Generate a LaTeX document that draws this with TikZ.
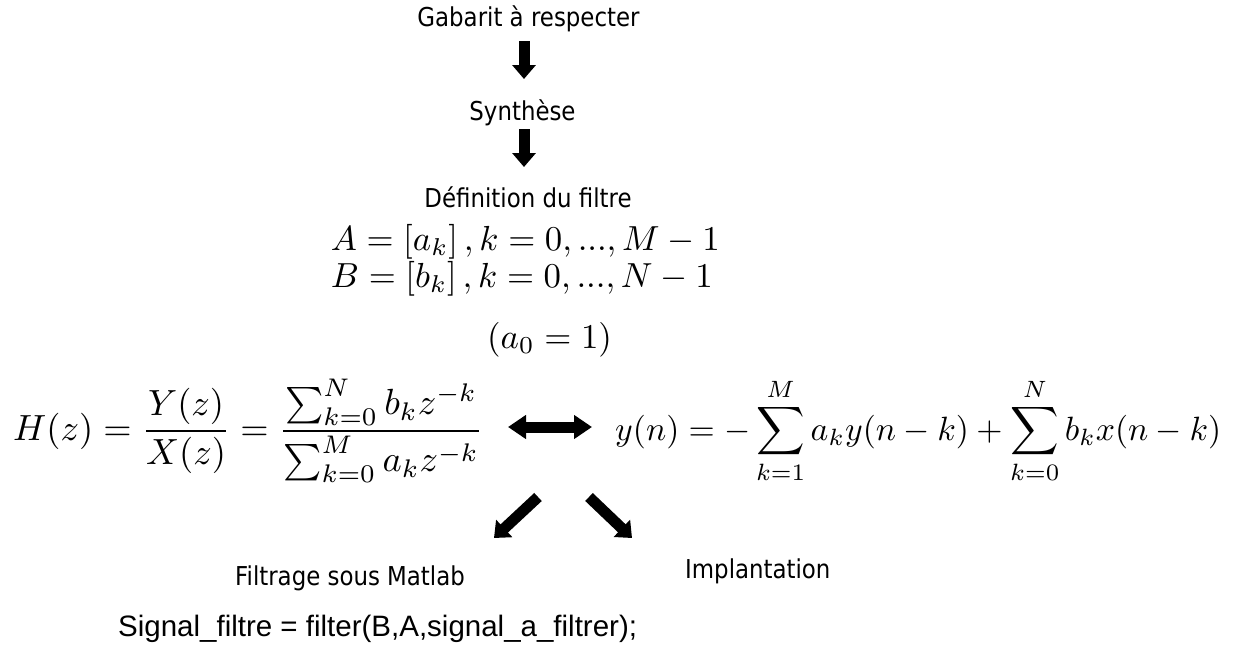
\documentclass[tikz,border=0pt]{standalone}
\usepackage{fontspec}
\usepackage{amsmath}
\usetikzlibrary{arrows.meta}
\newfontfamily\tah[FakeStretch=0.88]{DejaVu Sans}
\newfontfamily\ari{Liberation Sans}
\begin{document}
\begin{tikzpicture}[x=1pt,y=-1pt,
  lbl/.style={inner sep=0pt, font=\tah\fontsize{26}{30}\selectfont},
  code/.style={inner sep=0pt, font=\ari\fontsize{29.5}{34}\selectfont},
  eq/.style={inner sep=0pt},
  bigarrow/.style={line width=11pt,-{Triangle[length=14pt,width=23pt]}},
  dblarrow/.style={line width=11pt,{Triangle[length=18pt,width=23pt]}-{Triangle[length=18pt,width=23pt]}}]
\useasboundingbox (0,0) rectangle (1236,645);
\node[lbl,anchor=base] (gab) at (528.5,27) {Gabarit à respecter};
\node[lbl,anchor=base] (syn) at (522.5,120) {Synthèse};
\node[lbl,anchor=base] (def) at (528,207) {Définition du filtre};
\node[eq,anchor=base east] (Aeq) at (720,250) {\scalebox{3.48}{$A=\left[a_k\right],k=0,...,M-1$}};
\node[eq,anchor=base east] (Beq) at (713,287) {\scalebox{3.48}{$B=\left[b_k\right],k=0,...,N-1$}};
\node[eq,anchor=base west] (a0) at (487,348) {\scalebox{3.48}{$(a_0=1)$}};
\node[eq,anchor=base west] (Heq) at (13,440) {\resizebox{470pt}{!}{$\displaystyle H(z)=\frac{Y(z)}{X(z)}=\frac{\sum_{k=0}^{N}b_kz^{-k}}{\sum_{k=0}^{M}a_kz^{-k}}$}};
\node[eq,anchor=base west] (yeq) at (615,440) {\resizebox{606pt}{!}{$\displaystyle y(n)=-\sum_{k=1}^{M}a_ky(n-k)+\sum_{k=0}^{N}b_kx(n-k)$}};
\node[lbl,anchor=base] (filt) at (350,585) {Filtrage sous Matlab};
\node[lbl,anchor=base west] (impl) at (685,578) {Implantation};
\node[code,anchor=base west] (sig) at (118,636) {Signal\_filtre = filter(B,A,signal\_a\_filtrer);};
\coordinate (a1s) at (524,41);
\coordinate (a1e) at (524,79);
\coordinate (a2s) at (524,129);
\coordinate (a2e) at (524,167);
\coordinate (dl) at (508,427);
\coordinate (dr) at (592,427);
\coordinate (ls) at (538,497);
\coordinate (le) at (494,538);
\coordinate (rs) at (589,497);
\coordinate (re) at (632,538);
\draw[bigarrow] (a1s) -- (a1e);
\draw[bigarrow] (a2s) -- (a2e);
\draw[dblarrow] (dl) -- (dr);
\draw[bigarrow] (ls) -- (le);
\draw[bigarrow] (rs) -- (re);
\end{tikzpicture}
\end{document}
